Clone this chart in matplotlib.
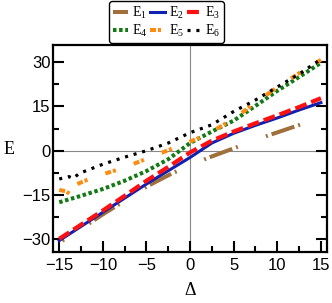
import matplotlib
matplotlib.use("Agg")
import matplotlib.pyplot as plt
from matplotlib.lines import Line2D
from matplotlib.ticker import MultipleLocator

plt.rcParams['lines.scale_dashes'] = False
plt.rcParams['mathtext.fontset'] = 'custom'
plt.rcParams['mathtext.rm'] = 'Liberation Serif'
plt.rcParams['mathtext.it'] = 'Liberation Serif:italic'

# values
x_e1 = [-15, -12.5, -10, -7.5, -5, -2, 2, 5, 9, 13, 15]
e1 = [-31.2, -26.5, -21.6, -17.0, -12.2, -7.6, -2.5, 0.8, 5.2, 9.2, 11.2]

x_main = [-15, -12.5, -10, -7.5, -5, -2.5, 0, 2.5, 5, 7.5, 10, 12.5, 15]
e2 = [-30.5, -25.7, -20.9, -16.1, -11.3, -6.8, -2.3, 2.6, 5.9, 8.6, 11.1, 13.8, 16.3]
e3 = [-29.9, -25.1, -20.3, -15.3, -10.2, -5.5, -0.6, 3.4, 6.5, 9.3, 12.0, 14.8, 17.8]
e4 = [-17.5, -15.3, -13.0, -10.2, -6.9, -2.9, 2.6, 6.5, 10.2, 15.2, 20.3, 25.0, 29.8]

x_e5 = [-15, -14.2, -13.45, -13.4, -11, -7.7, -4.6, -1.2, 1.7, 5, 7.5, 10, 12.5, 15]
e5 = [-13.3, -13.8, -15.4, -11.9, -8.9, -5.9, -2.3, 1.7, 5.1, 10.8, 16.3, 21.5, 26.3, 30.8]

x_e6 = [-15, -13.9, -13.4, -12.7, -10, -7.5, -5, -2.5, 0, 2.5, 5, 7.5, 10, 12.5, 15]
e6 = [-9.6, -8.8, -9.4, -7.7, -4.6, -2.2, 0.0, 2.6, 6.1, 8.8, 13.3, 17.2, 21.6, 26.0, 31.0]

labels = [r'$\mathrm{E}_1$', r'$\mathrm{E}_2$', r'$\mathrm{E}_3$',
          r'$\mathrm{E}_4$', r'$\mathrm{E}_5$', r'$\mathrm{E}_6$']

brown = '#a0703c'
brown_pat = (17.3, 2.9, 1.4, 21.6, 1.4, 2.9)

fig = plt.figure(figsize=(3.32, 3.03), dpi=100)
ax = fig.add_axes([0.16, 0.168, 0.825, 0.683])

ax.axhline(0, color='#888888', lw=0.8, zorder=0)
ax.axvline(0, color='#888888', lw=0.8, zorder=0)

l1, = ax.plot(x_e1, e1, color=brown, lw=2.9, dash_capstyle='butt',
              linestyle=(17.6, brown_pat))
l2, = ax.plot(x_main, e2, color='#1020b0', lw=2.2)
l3, = ax.plot(x_main, e3, color='#ff1010', lw=3.0, dash_capstyle='butt',
              linestyle=(0, (8.6, 3.6)))
l4, = ax.plot(x_main, e4, color='#127a12', lw=2.9, dash_capstyle='butt',
              linestyle=(0, (2.5, 1.9)))
l5, = ax.plot(x_e5, e5, color='#ff8c10', lw=2.9, dash_capstyle='butt',
              linestyle=(0, (4.3, 1.4, 2.2, 13.7)))
l6, = ax.plot(x_e6, e6, color='black', lw=2.3, dash_capstyle='butt',
              linestyle=(0, (2.2, 4.2)))

ax.set_xlim(-15.7, 15.7)
ax.set_ylim(-34.4, 35.8)
ax.xaxis.set_major_locator(MultipleLocator(5))
ax.xaxis.set_minor_locator(MultipleLocator(2.5))
ax.yaxis.set_major_locator(MultipleLocator(15))
ax.yaxis.set_minor_locator(MultipleLocator(7.5))
ax.tick_params(which='both', direction='in', right=True, top=False, width=1.5)
ax.tick_params(which='major', length=8)
ax.tick_params(which='minor', length=4.3)
ax.tick_params(axis='x', pad=4)
ax.tick_params(axis='y', pad=2)
for sp in ax.spines.values():
    sp.set_linewidth(1.6)
for t in ax.get_xticklabels() + ax.get_yticklabels():
    t.set_family('Liberation Sans')
    t.set_fontsize(12)

fig.text(0.027, 0.505, 'E', family='Liberation Serif', fontsize=13, ha='center', va='center')
fig.text(0.572, 0.04, 'Δ', family='Liberation Serif', fontsize=13, ha='center', va='center')

# legend proxy for E1 so the sample starts with the long dash
h1 = Line2D([], [], color=brown, lw=2.9, dash_capstyle='butt', linestyle=(0, brown_pat))
handles = [h1, l2, l3, l4, l5, l6]
# fill row-wise: E1 E2 E3 / E4 E5 E6
order = [0, 3, 1, 4, 2, 5]
leg = fig.legend([handles[i] for i in order], [labels[i] for i in order], ncol=3,
                 loc='upper center', bbox_to_anchor=(0.502, 1.0), fontsize=10,
                 frameon=True, fancybox=True, edgecolor='black', handlelength=1.1,
                 handletextpad=0.25, columnspacing=0.2, labelspacing=0.15,
                 borderpad=0.25, borderaxespad=0.1)
leg.get_frame().set_linewidth(1.0)
leg.get_frame().set_alpha(1)

fig.savefig('out.png', dpi=100)
